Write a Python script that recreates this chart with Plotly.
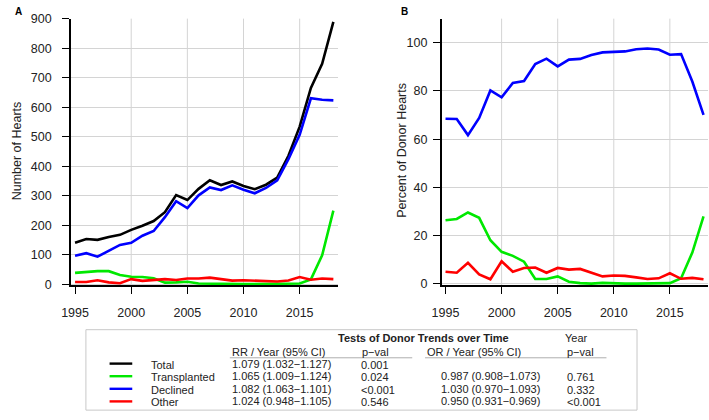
import plotly.graph_objects as go

# ---- data ----
years = list(range(1995, 2019))

total_n = [140, 153, 150, 160, 167, 184, 198, 214, 244, 302, 285, 323, 352, 336,
           348, 333, 322, 337, 361, 435, 534, 665, 747, 889]
transplanted_n = [38, 42, 44, 44, 31, 25, 24, 20, 5, 6, 8, 2, 1, 1,
                  1, 0, 0, 0, 1, 1, 2, 16, 98, 249]
declined_n = [96, 105, 93, 113, 133, 140, 164, 180, 227, 281, 258, 301, 328, 319,
              335, 320, 308, 326, 352, 424, 506, 630, 625, 623]
other_n = [7, 7, 13, 6, 3, 17, 11, 14, 17, 14, 19, 19, 22, 17,
           12, 13, 12, 10, 9, 12, 24, 15, 19, 17]

transplanted_pct = [26.4, 26.9, 29.6, 27.4, 18.1, 13.3, 11.6, 9.2, 2.0, 2.0, 3.1, 0.9, 0.3, 0.1,
                    0.4, 0.1, 0.1, 0.1, 0.2, 0.2, 0.3, 2.3, 13.0, 28.0]
declined_pct = [68.5, 68.4, 61.7, 68.8, 80.2, 77.4, 83.3, 84.1, 91.2, 93.4, 90.2, 93.0, 93.3, 94.9,
                96.0, 96.1, 96.4, 97.3, 97.6, 97.2, 95.0, 95.3, 83.9, 70.1]
other_pct = [5.0, 4.6, 8.7, 3.9, 1.9, 9.4, 5.0, 6.6, 6.8, 4.6, 6.6, 5.9, 6.2, 4.6,
             3.1, 3.5, 3.3, 2.7, 2.0, 2.3, 4.4, 2.1, 2.5, 1.9]

x_ticks = [1995, 2000, 2005, 2010, 2015]
grid_years = [2000, 2005, 2010, 2015]
yA_ticks = list(range(0, 1000, 100))
yB_ticks = list(range(0, 120, 20))

# table contents
groups = ["Total", "Transplanted", "Declined", "Other"]
group_colors = ["#000000", "#00E800", "#0000FF", "#FF0000"]
rr_ci = ["1.079 (1.032\u22121.127)", "1.065 (1.009\u22121.124)", "1.082 (1.063\u22121.101)", "1.024 (0.948\u22121.105)"]
rr_p = ["0.001", "0.024", "<0.001", "0.546"]
or_ci = ["", "0.987 (0.908\u22121.073)", "1.030 (0.970\u22121.093)", "0.950 (0.931\u22120.969)"]
or_p = ["", "0.761", "0.332", "<0.001"]

W, H = 709, 420
FONT = "Liberation Sans, Arial, sans-serif"


def px(x):
    return x / W


def py(y):
    return 1 - y / H


fig = go.Figure()

# panel A: counts
for vals, col in zip([total_n, transplanted_n, declined_n, other_n], group_colors):
    fig.add_trace(go.Scatter(x=years, y=vals, mode="lines", line=dict(color=col, width=2.6),
                             xaxis="x", yaxis="y", showlegend=False))

# panel B: percent (no total line)
for vals, col in zip([transplanted_pct, declined_pct, other_pct], group_colors[1:]):
    fig.add_trace(go.Scatter(x=years, y=vals, mode="lines", line=dict(color=col, width=2.6),
                             xaxis="x2", yaxis="y2", showlegend=False))

# vertical grid lines (none at 1995)
for xr, yr in [("x", "y"), ("x2", "y2")]:
    for g in grid_years:
        fig.add_shape(type="line", xref=xr, yref=yr + " domain", x0=g, x1=g, y0=0, y1=1,
                      line=dict(color="#d4d4d4", width=1), layer="below")

axis_common = dict(showline=True, linecolor="black", linewidth=1.8, ticks="outside",
                   ticklen=7, tickwidth=1.3, tickcolor="black", zeroline=False,
                   tickfont=dict(family=FONT, size=12.5, color="#222"))

fig.update_layout(
    width=W, height=H, margin=dict(l=0, r=0, t=0, b=0),
    paper_bgcolor="white", plot_bgcolor="white",
    font=dict(family=FONT, color="#222"),
    xaxis=dict(domain=[px(62), px(333)], range=[1994.65, 2018.44], tickvals=x_ticks,
               showgrid=False, anchor="y", ticklabelstandoff=8, **axis_common),
    yaxis=dict(domain=[py(287.2), py(12)], range=[-4, 900], tickvals=yA_ticks,
               showgrid=True, gridcolor="#d4d4d4", gridwidth=1, anchor="x",
               ticklabelstandoff=8, **axis_common),
    xaxis2=dict(domain=[px(438), px(708)], range=[1994.67, 2018.4], tickvals=x_ticks,
                showgrid=False, anchor="y2", ticklabelstandoff=8, **axis_common),
    yaxis2=dict(domain=[py(287.2), py(12)], range=[-0.6, 110], tickvals=yB_ticks,
                showgrid=True, gridcolor="#d4d4d4", gridwidth=1, anchor="x2",
                ticklabelstandoff=3, **axis_common),
)

ann = []
# panel letters
ann.append(dict(x=px(3), y=py(5), text="<b>A</b>", xanchor="left", yanchor="middle",
                font=dict(size=10, family=FONT, color="black")))
ann.append(dict(x=px(395), y=py(5), text="<b>B</b>", xanchor="left", yanchor="middle",
                font=dict(size=10, family=FONT, color="black")))
# axis titles
ann.append(dict(x=px(8), y=py(148), text="Number of Hearts", textangle=-90,
                xanchor="center", yanchor="middle", font=dict(size=12.5, family=FONT, color="#222")))
ann.append(dict(x=px(398), y=py(148), text="Percent of Donor Hearts", textangle=-90,
                xanchor="center", yanchor="middle", font=dict(size=12.5, family=FONT, color="#222")))

# table box
fig.add_shape(type="rect", xref="paper", yref="paper", x0=px(77), x1=px(636), y0=py(416), y1=py(333),
              line=dict(color="#c8c8c8", width=1), fillcolor="white")

tfont = dict(size=11, family=FONT, color="#222")
ann.append(dict(x=px(419), y=py(342), text="<b>Tests of Donor Trends over Time</b>",
                xanchor="center", yanchor="middle", font=tfont))
ann.append(dict(x=px(561), y=py(342), text="Year", xanchor="left", yanchor="middle", font=tfont))
for xl, t in [(223, "RR / Year (95% CI)"), (355, "p\u2212val"), (421, "OR / Year (95% CI)"), (563, "p\u2212val")]:
    ann.append(dict(x=px(xl), y=py(356), text=t, xanchor="left", yanchor="middle", font=tfont))

# header rules
for x0, x1 in [(223, 408), (421, 605)]:
    fig.add_shape(type="line", xref="paper", yref="paper", x0=px(x0), x1=px(x1), y0=py(362), y1=py(362),
                  line=dict(color="#999", width=0.8))

row_y = [368, 381, 394, 407]
for i, g in enumerate(groups):
    yy = row_y[i]
    fig.add_shape(type="line", xref="paper", yref="paper", x0=px(101), x1=px(124), y0=py(yy), y1=py(yy),
                  line=dict(color=group_colors[i], width=2.4))
    ann.append(dict(x=px(141), y=py(yy + 1), text=g, xanchor="left", yanchor="middle", font=tfont))
    ann.append(dict(x=px(223), y=py(yy), text=rr_ci[i], xanchor="left", yanchor="middle", font=tfont))
    ann.append(dict(x=px(354), y=py(yy + 1), text=rr_p[i], xanchor="left", yanchor="middle", font=tfont))
    if or_ci[i]:
        ann.append(dict(x=px(435), y=py(yy), text=or_ci[i], xanchor="left", yanchor="middle", font=tfont))
        ann.append(dict(x=px(563), y=py(yy + 1), text=or_p[i], xanchor="left", yanchor="middle", font=tfont))

for a in ann:
    a.update(xref="paper", yref="paper", showarrow=False)
fig.update_layout(annotations=ann)

# page body margin would shift the fixed-size figure, so drop it
fig.write_html("out.html", config={"displayModeBar": False},
               post_script="document.body.style.margin='0';document.body.style.overflow='hidden';")
